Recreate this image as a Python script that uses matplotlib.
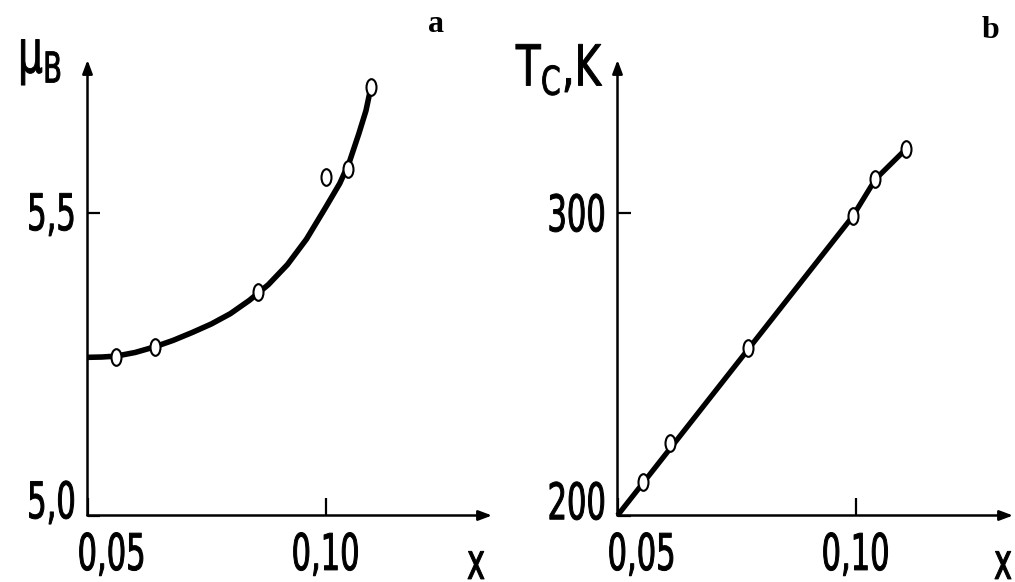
import matplotlib
matplotlib.use("Agg")
import matplotlib.pyplot as plt
from matplotlib.patheffects import AbstractPathEffect
from matplotlib.transforms import Affine2D, ScaledTranslation
from matplotlib.path import Path

# ---- data -------------------------------------------------------------
# (a) magnetic moment per formula unit vs. composition x
mu_x = [0.0559, 0.0641, 0.0859, 0.1000, 0.1047, 0.1095]
mu_y = [5.262, 5.278, 5.369, 5.559, 5.572, 5.707]
mu_curve_x = [0.050, 0.053, 0.056, 0.060, 0.064, 0.068, 0.072, 0.076, 0.080,
              0.084, 0.088, 0.092, 0.096, 0.100, 0.103, 0.105, 0.107, 0.1085, 0.1095]
mu_curve_y = [5.261, 5.2615, 5.263, 5.269, 5.278, 5.289, 5.302, 5.316, 5.333,
              5.355, 5.381, 5.414, 5.456, 5.508, 5.548, 5.583, 5.630, 5.668, 5.705]

# (b) Curie temperature vs. composition x
tc_x = [0.0553, 0.0611, 0.0775, 0.0994, 0.1042, 0.1107]
tc_y = [210.9, 223.8, 255.4, 298.7, 311.0, 321.1]
tc_line_x = [0.0500, 0.0994, 0.1042, 0.1107]
tc_line_y = [200.0, 298.7, 311.0, 321.1]

x_ticks = [0.05, 0.10]
x_tick_labels = ["0,05", "0,10"]
mu_ticks = [5.0, 5.5]
mu_tick_labels = ["5,0", "5,5"]
tc_ticks = [200, 300]
tc_tick_labels = ["200", "300"]


class Stretch(AbstractPathEffect):
    """Rescale glyph outlines about an anchor and thicken their strokes."""

    def __init__(self, sx=1.0, sy=1.0, ha="center", va="center", thicken=0.7):
        super().__init__()
        self.sx, self.sy, self.ha, self.va = sx, sy, ha, va
        self.thicken = thicken

    def draw_path(self, renderer, gc, tpath, affine, rgbFace=None):
        ext = tpath.get_extents()
        x0 = {"left": ext.x0, "right": ext.x1}.get(self.ha, 0.5 * (ext.x0 + ext.x1))
        y0 = {"top": ext.y1, "bottom": ext.y0, "baseline": 0.0}.get(
            self.va, 0.5 * (ext.y0 + ext.y1))
        t = Affine2D().translate(-x0, -y0).scale(self.sx, self.sy).translate(x0, y0)
        gc0 = renderer.new_gc()
        gc0.copy_properties(gc)
        gc0.set_linewidth(self.thicken)
        gc0.set_joinstyle("round")
        renderer.draw_path(gc0, tpath, t + affine, rgbFace)
        gc0.restore()


W, H = 1015, 582
fig = plt.figure(figsize=(W / 100, H / 100), dpi=100)
fig.patch.set_facecolor("white")


def px_rect(x0, y_top, x1, y_bottom):
    return [x0 / W, 1 - y_bottom / H, (x1 - x0) / W, (y_bottom - y_top) / H]


circ = Path.unit_circle()
oval = Path(circ.vertices * [0.6, 1.0], circ.codes)

FONT = "DejaVu Sans"
TICK_SIZE = 22
TALL = 1.65
px = 1 / 100  # one pixel in inches


def style_axes(ax, yticks, ylabels, ytick_len, xtick_len):
    for s in ax.spines.values():
        s.set_visible(False)
    arrow = dict(arrowstyle="-|>,head_length=0.8,head_width=0.3",
                 lw=1.8, color="black", shrinkA=0, shrinkB=0)
    ax.annotate("", xy=(0, 1), xytext=(0, 0), xycoords="axes fraction",
                textcoords="axes fraction", arrowprops=arrow, annotation_clip=False)
    ax.annotate("", xy=(1, 0), xytext=(0, 0), xycoords="axes fraction",
                textcoords="axes fraction", arrowprops=arrow, annotation_clip=False)
    ax.set_xticks(x_ticks, x_tick_labels)
    ax.set_yticks(yticks, ylabels)
    ax.tick_params(axis="both", direction="in", width=1.6, color="black")
    ax.tick_params(axis="y", length=ytick_len, pad=8.5)
    ax.tick_params(axis="x", length=xtick_len, pad=12)
    for lab in ax.get_xticklabels() + ax.get_yticklabels():
        lab.set_fontfamily(FONT)
        lab.set_fontsize(TICK_SIZE)
    for lab in ax.get_xticklabels():
        lab.set_path_effects([Stretch(1.0, TALL, "center", "top")])
    for lab in ax.get_yticklabels():
        lab.set_path_effects([Stretch(1.0, TALL, "right", "center")])
    # first x label sits to the right of the origin, lowest y label lifted
    xl = ax.get_xticklabels()[0]
    xl.set_transform(xl.get_transform() + ScaledTranslation(24 * px, 0, fig.dpi_scale_trans))
    yl = ax.get_yticklabels()[0]
    yl.set_transform(yl.get_transform() + ScaledTranslation(0, 15 * px, fig.dpi_scale_trans))


# ---- panel (a) --------------------------------------------------------
ax1 = fig.add_axes(px_rect(87.5, 60, 492, 515.5))
ax1.set_xlim(0.05, 0.05 + 404.5 / 4760)
ax1.set_ylim(5.0, 5.0 + 455.5 / 606)
ax1.plot(mu_curve_x, mu_curve_y, color="black", lw=4.0, solid_capstyle="butt",
         solid_joinstyle="round", clip_on=False, zorder=3)
ax1.plot(mu_x, mu_y, linestyle="none", marker=oval, markersize=12,
         markerfacecolor="white", markeredgecolor="black", markeredgewidth=1.5,
         clip_on=False, zorder=4)
style_axes(ax1, mu_ticks, mu_tick_labels, 8.5, 13)

# ---- panel (b) --------------------------------------------------------
ax2 = fig.add_axes(px_rect(617.5, 60, 1013, 515.5))
ax2.set_xlim(0.05, 0.05 + 395.5 / 4760)
ax2.set_ylim(200, 200 + 455.5 / 3.03)
ax2.plot(tc_line_x, tc_line_y, color="black", lw=3.8, solid_capstyle="butt",
         solid_joinstyle="round", clip_on=False, zorder=3)
ax2.plot(tc_x, tc_y, linestyle="none", marker=oval, markersize=12,
         markerfacecolor="white", markeredgecolor="black", markeredgewidth=1.5,
         clip_on=False, zorder=4)
style_axes(ax2, tc_ticks, tc_tick_labels, 9, 13)


# ---- axis titles and panel letters -------------------------------------
def fig_text(x, y, s, size, sy):
    t = fig.text(x / W, 1 - y / H, s, fontsize=size, ha="center", va="center",
                 family=FONT)
    t.set_path_effects([Stretch(1.0, sy, "center", "center")])
    return t


fig_text(40, 60, r"μ$_\mathregular{B}$", 28, 1.55)
fig_text(560, 70, r"T$_\mathregular{C}$,K", 29, 1.4)
fig_text(476, 565, "x", TICK_SIZE, TALL)
fig_text(1003, 565, "x", TICK_SIZE, TALL)

fig.text(436 / W, 1 - 25 / H, "a", fontsize=23, fontweight="bold",
         family="Liberation Serif", ha="center", va="center")
fig.text(991 / W, 1 - 30 / H, "b", fontsize=23, fontweight="bold",
         family="Liberation Serif", ha="center", va="center")

fig.savefig("out.png", dpi=100, facecolor="white")
